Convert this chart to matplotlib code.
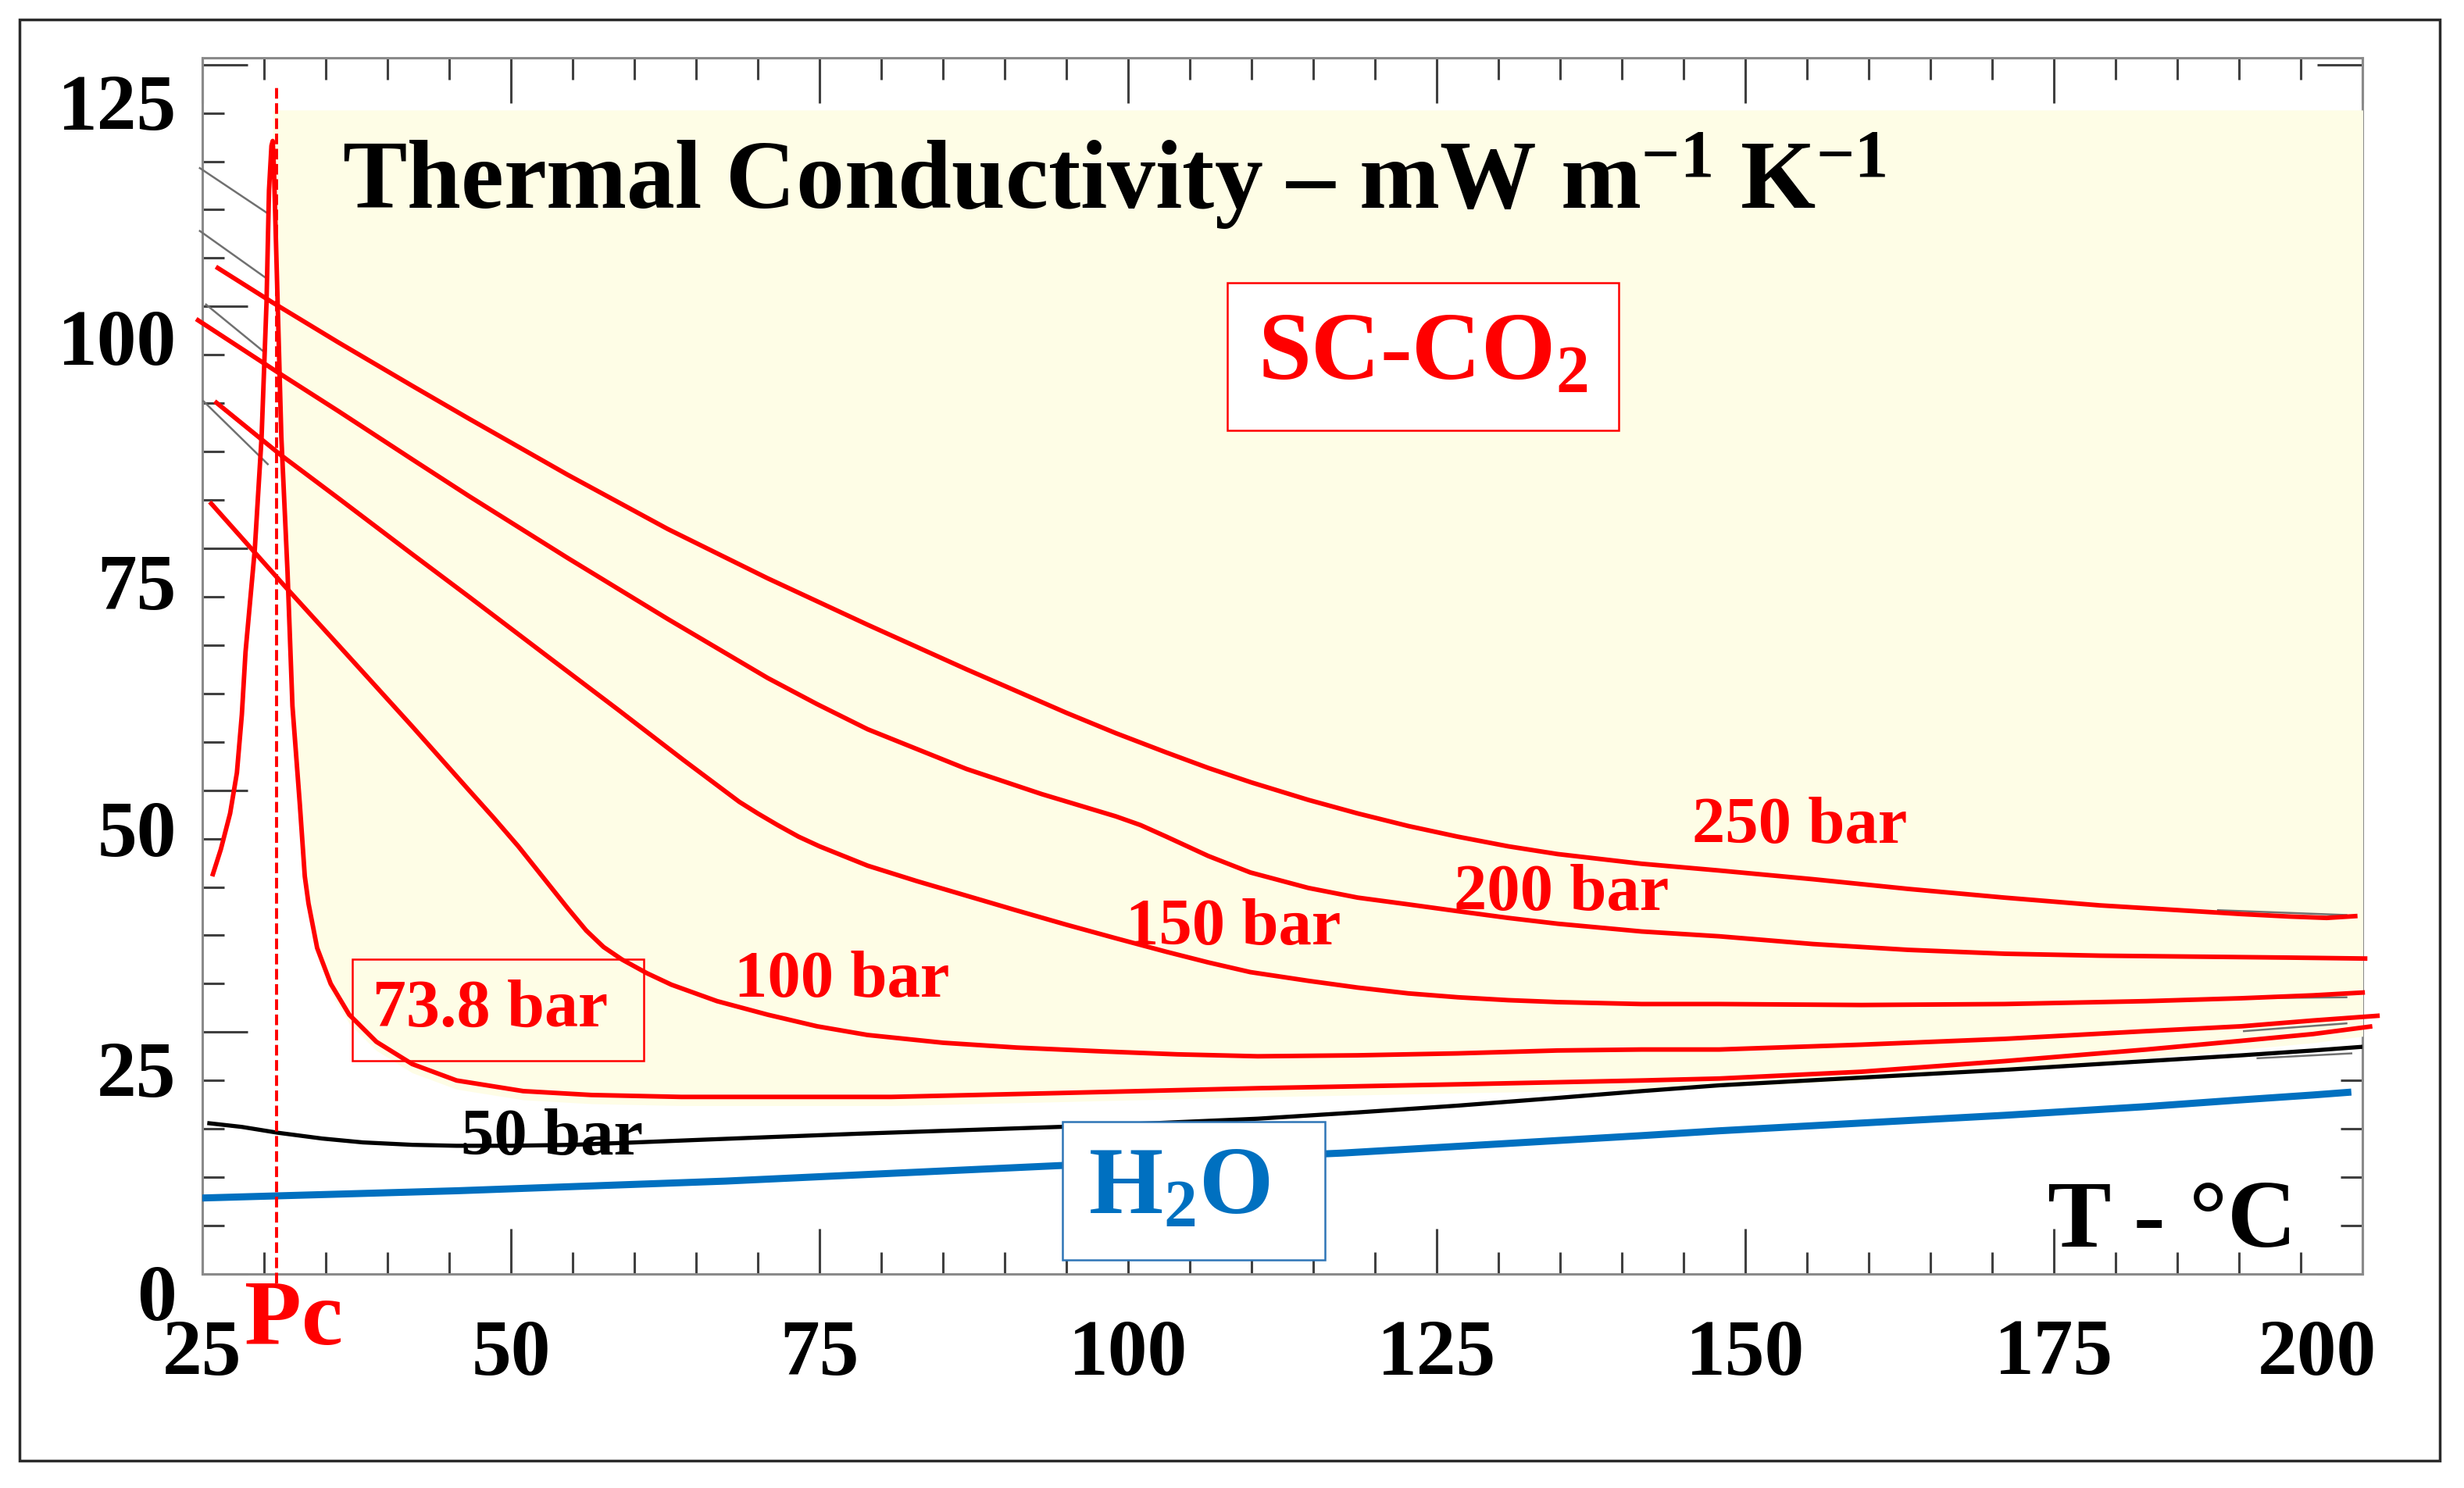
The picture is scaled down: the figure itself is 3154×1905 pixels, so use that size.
import matplotlib
matplotlib.use("Agg")
import matplotlib.pyplot as plt
from matplotlib.patches import Rectangle
from matplotlib.ticker import MultipleLocator
from matplotlib.transforms import ScaledTranslation

plt.rcParams["font.family"] = ["Liberation Serif", "DejaVu Serif"]
plt.rcParams["mathtext.fontset"] = "custom"
plt.rcParams["mathtext.rm"] = "Liberation Serif:bold"
plt.rcParams["mathtext.it"] = "Liberation Serif:italic:bold"
plt.rcParams["mathtext.bf"] = "Liberation Serif:bold"

# ── data (T in °C, k in mW m-1 K-1) ──
T_250 = [26.1, 30.7, 36.0, 42.0, 46.6, 54.6, 62.7, 70.8, 78.9, 86.9, 95.0, 99.0, 103.1,
         106.5, 110.0, 114.6, 118.6, 122.7, 126.7, 130.8, 134.8, 141.6, 147.9, 155.5,
         163.2, 171.0, 178.7, 186.4, 190.2, 194.0, 197.1, 199.6]
K_250 = [104.1, 100.4, 96.3, 91.8, 88.4, 82.6, 77.0, 71.9, 67.1, 62.5, 58.0, 55.9, 53.9,
         52.3, 50.8, 49.0, 47.6, 46.3, 45.2, 44.2, 43.4, 42.4, 41.7, 40.8,
         39.8, 38.9, 38.1, 37.5, 37.2, 36.95, 36.8, 37.0]

T_200 = [24.5, 31.1, 36.0, 42.0, 46.6, 54.6, 62.7, 70.8, 74.8, 78.9, 86.9, 93.0, 99.0,
         101.0, 103.1, 106.5, 109.9, 114.6, 118.6, 122.7, 126.7, 130.8, 134.8, 141.6,
         147.9, 155.5, 163.2, 171.0, 178.7, 186.4, 194.0, 200.4]
K_200 = [98.7, 93.2, 89.2, 84.2, 80.4, 74.0, 67.7, 61.6, 58.9, 56.3, 52.2, 49.6, 47.3,
         46.4, 45.2, 43.2, 41.5, 39.9, 38.9, 38.2, 37.5, 36.8, 36.2, 35.4,
         34.9, 34.1, 33.5, 33.1, 32.9, 32.8, 32.7, 32.6]

T_150 = [26.0, 31.4, 36.0, 42.0, 46.6, 52.9, 58.7, 64.0, 68.5, 70.0, 71.6, 73.3, 75.0,
         78.9, 82.9, 86.9, 90.9, 95.0, 99.0, 103.1, 106.5, 109.9, 114.6, 118.6, 122.7,
         126.7, 130.8, 134.8, 141.6, 147.9, 159.4, 171.0, 182.5, 190.2, 196.0, 200.2]
K_150 = [90.2, 84.6, 80.2, 74.4, 70.0, 63.9, 58.3, 53.1, 48.8, 47.6, 46.4, 45.2, 44.2,
         42.2, 40.6, 39.1, 37.6, 36.1, 34.7, 33.3, 32.2, 31.2, 30.3, 29.6, 29.0,
         28.6, 28.3, 28.1, 27.9, 27.9, 27.8, 27.9, 28.2, 28.5, 28.8, 29.1]

T_100 = [25.6, 31.6, 38.3, 42.0, 46.6, 48.6, 50.6, 52.6, 54.6, 56.1, 57.5, 59.0, 61.0,
         63.0, 66.7, 70.8, 74.8, 78.9, 85.0, 91.0, 98.0, 104.0, 110.5, 118.6, 126.7,
         134.8, 141.6, 147.9, 159.4, 171.0, 182.5, 190.2, 196.0, 201.4]
K_100 = [79.8, 71.2, 61.8, 56.6, 50.0, 47.15, 44.2, 41.0, 37.8, 35.5, 33.8, 32.5, 31.1,
         29.9, 28.2, 26.8, 25.6, 24.7, 23.9, 23.4, 23.0, 22.7, 22.5, 22.6, 22.8,
         23.1, 23.2, 23.2, 23.7, 24.3, 25.1, 25.6, 26.2, 26.7]

# 73.8 bar (critical pressure): rises to a spike at Tc, then falls
T_738 = [25.8, 26.5, 27.25, 27.8, 28.2, 28.5, 29.25, 29.8, 30.2, 30.4, 30.6, 30.7,
         30.8, 31.1, 31.4, 31.9, 32.3, 32.9, 33.3, 33.6, 34.3, 35.4, 36.9, 39.1, 42.0,
         45.6, 51.0, 56.5, 63.8, 71.0, 80.8, 94.4, 110.5, 126.7, 141.6, 147.9, 159.4,
         171.0, 182.5, 190.2, 196.0, 200.8]
K_738 = [41.1, 43.9, 47.6, 51.8, 57.8, 64.3, 74.9, 86.5, 100.4, 112.0, 116.6, 117.1,
         114.3, 100.4, 86.5, 72.6, 58.7, 48.5, 41.1, 38.3, 33.7, 30.0, 26.8, 24.0, 21.7,
         20.0, 18.9, 18.5, 18.3, 18.3, 18.3, 18.7, 19.2, 19.6, 20.0, 20.2, 20.9,
         22.0, 23.2, 24.1, 24.8, 25.6]
PEAK_738 = 11  # index of the spike

T_50 = [25.4, 28.2, 31.1, 34.7, 38.0, 42.0, 45.6, 50.0, 55.0, 60.1, 65.0, 71.0, 78.2,
        86.3, 94.4, 102.4, 110.5, 118.6, 126.7, 134.8, 141.6, 147.9, 159.4, 171.0,
        182.5, 190.2, 196.0, 200.2]
K_50 = [15.6, 15.2, 14.6, 14.0, 13.6, 13.35, 13.25, 13.25, 13.35, 13.6, 13.85, 14.15, 14.5,
        14.85, 15.2, 15.6, 16.05, 16.7, 17.4, 18.2, 18.9, 19.5, 20.3, 21.1,
        22.0, 22.6, 23.1, 23.5]

T_H2O = [24.9, 45.6, 67.4, 80.8, 94.4, 117.4, 141.6, 147.9, 159.4, 171.0, 182.5, 190.2, 196.0, 199.1]
K_H2O = [7.85, 8.6, 9.6, 10.4, 11.2, 12.5, 14.3, 14.8, 15.6, 16.4, 17.3, 18.0, 18.5, 18.8]

# leftover grey strokes of the underlying original plot
GHOST_T = [(24.8, 30.2), (24.8, 30.2), (25.3, 30.0), (25.1, 30.3),
           (188.3, 198.7), (190.2, 198.7), (190.4, 198.7), (191.5, 199.1)]
GHOST_K = [(114.3, 109.7), (107.8, 102.9), (100.2, 95.3), (90.2, 83.7),
           (37.6, 37.1), (28.5, 28.6), (25.1, 25.9), (22.3, 22.8)]

PC_TEMP = 31.0
SC_TOP = 120.3

X_TICKS = [25, 50, 75, 100, 125, 150, 175, 200]
Y_TICKS = [0, 25, 50, 75, 100, 125]
CURVE_LABELS = ["100 bar", "150 bar", "200 bar", "250 bar"]
CURVE_LABEL_POS = [(76.8, 30.3), (108.5, 35.7), (135.1, 39.3), (154.4, 46.2)]

RED = "#FF0000"
BLUE = "#0070C0"
YELLOW = "#FEFDE6"

W, H = 3154, 1905
fig = plt.figure(figsize=(W / 100, H / 100), dpi=100)
ax = fig.add_axes([259 / W, 1 - 1631 / H, 2765 / W, 1557 / H])
ax.set_xlim(25, 200)
ax.set_ylim(0, 125.7)

# supercritical zone
ax.fill_between(T_738[PEAK_738:], [k - 0.9 for k in K_738[PEAK_738:]], SC_TOP,
                color=YELLOW, lw=0, zorder=2.6)

for tt, kk in zip(GHOST_T, GHOST_K):
    ax.plot(tt, kk, color="#707070", lw=1.8, zorder=3, clip_on=False)

line_kw = dict(zorder=4, solid_joinstyle="round", solid_capstyle="butt")
for tt, kk in [(T_250, K_250), (T_200, K_200), (T_150, K_150), (T_100, K_100), (T_738, K_738)]:
    ax.plot(tt, kk, color=RED, lw=4.2, clip_on=False, **line_kw)
ax.plot(T_50, K_50, color="black", lw=3.8, **line_kw)
ax.plot(T_H2O, K_H2O, color=BLUE, lw=6.5, **line_kw)

ax.plot([PC_TEMP, PC_TEMP], [-1.0, 122.6], color=RED, lw=2.8, ls=(0, (3.5, 1.5)),
        zorder=5, clip_on=False)

# frame and ticks
for sp in ax.spines.values():
    sp.set_color("#8a8a8a")
    sp.set_linewidth(2.2)
ax.xaxis.set_minor_locator(MultipleLocator(5))
ax.yaxis.set_minor_locator(MultipleLocator(5))
ax.set_xticks(X_TICKS)
ax.set_xticklabels([str(v) for v in X_TICKS], fontweight="bold")
ax.set_yticks(Y_TICKS)
ax.set_yticklabels([str(v) for v in Y_TICKS], fontweight="bold")
ax.tick_params(which="both", direction="in", top=True, right=True, color="#404040",
               width=2.2, labelsize=73)
ax.tick_params(which="major", length=42)
ax.tick_params(which="minor", length=20)
ax.tick_params(axis="x", pad=41)
ax.tick_params(axis="y", pad=24)

# labels in the original sit a little below their ticks
y_drop_px = [23, 46, 48, 42, 38, 47]
for lab, dy in zip(ax.get_yticklabels(), y_drop_px):
    lab.set_transform(lab.get_transform() + ScaledTranslation(0, -dy / 100, fig.dpi_scale_trans))
xl = ax.get_xticklabels()[-1]
xl.set_transform(xl.get_transform() + ScaledTranslation(-0.58, 0, fig.dpi_scale_trans))

# texts
ax.text(36.3, 110.2, "Thermal Conductivity – mW m$^{-1}$ K$^{-1}$", fontsize=89,
        fontweight="bold", ha="left", va="baseline", zorder=6)
ax.text(123.9, 94.8, "SC-CO$_2$", color=RED, fontsize=88, fontweight="bold",
        ha="center", va="center", zorder=6,
        bbox=dict(boxstyle="square,pad=0.32", fc="white", ec=RED, lw=1.8))
ax.text(96.8, 8.6, "H$_2$O  ", color=BLUE, fontsize=88, fontweight="bold",
        ha="left", va="center", zorder=6,
        bbox=dict(boxstyle="square,pad=0.27", fc="white", ec="#2E75B6", lw=1.8))
ax.text(38.8, 27.3, "73.8 bar ", color=RED, fontsize=62, fontweight="bold",
        ha="left", va="center", zorder=6,
        bbox=dict(boxstyle="square,pad=0.3", fc="none", ec=RED, lw=1.8))
for lbl, (tx, ky) in zip(CURVE_LABELS, CURVE_LABEL_POS):
    ax.text(tx, ky, lbl, color=RED, fontsize=61, fontweight="bold",
            ha="center", va="center", zorder=6)
ax.text(53.3, 14.0, "50 bar", color="black", fontsize=61, fontweight="bold",
        ha="center", va="center", zorder=6)
ax.text(184.6, 5.2, "T - °C", fontsize=88, fontweight="bold", ha="center", va="center", zorder=6)
ax.text(32.4, -5.0, "Pc", color=RED, fontsize=86, fontweight="bold",
        ha="center", va="center", zorder=6, clip_on=False)

fig.add_artist(Rectangle((25 / W, 1 - 1870 / H), 3098 / W, 1845 / H, transform=fig.transFigure,
                         fill=False, ec="#2a2a2a", lw=2.5))

fig.savefig("out.png", dpi=100)
